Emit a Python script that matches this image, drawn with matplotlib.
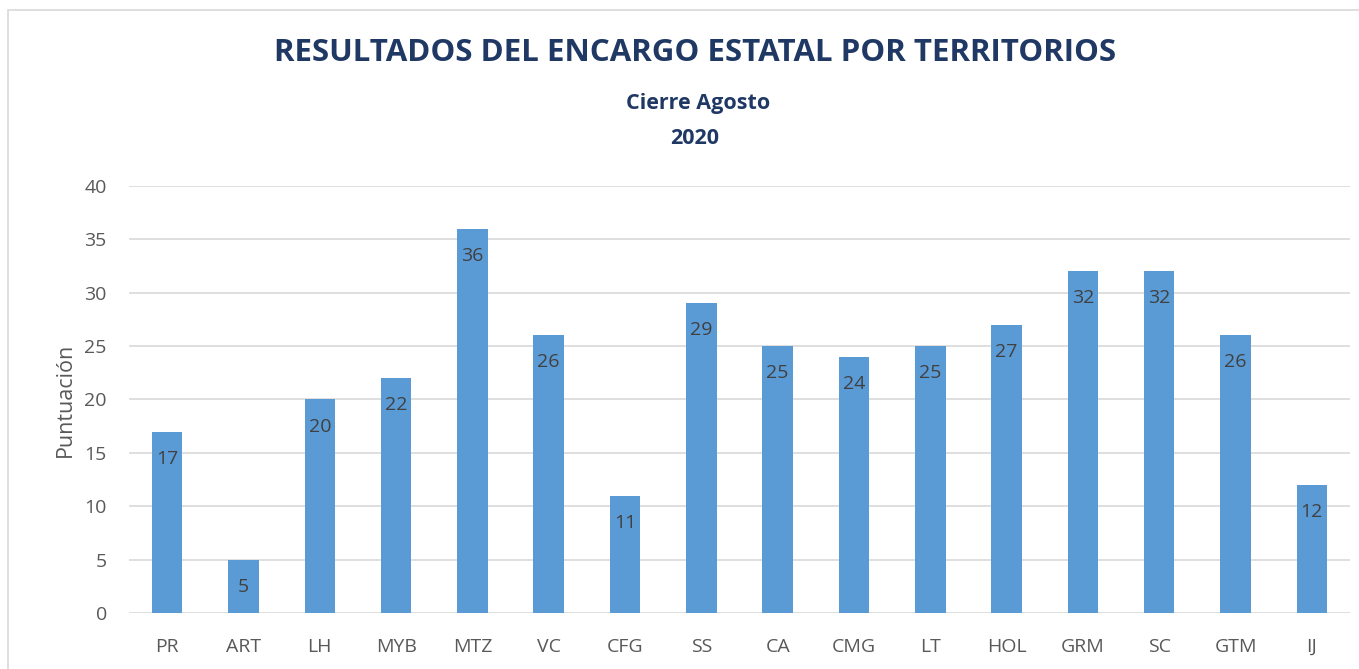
import matplotlib.pyplot as plt
from matplotlib.patches import Rectangle

territorios = ["PR", "ART", "LH", "MYB", "MTZ", "VC", "CFG", "SS", "CA", "CMG",
               "LT", "HOL", "GRM", "SC", "GTM", "IJ"]
puntuacion = [17, 5, 20, 22, 36, 26, 11, 29, 25, 24, 25, 27, 32, 32, 26, 12]
yticks = [0, 5, 10, 15, 20, 25, 30, 35, 40]

BAR = "#5b9bd5"
NAVY = "#1f3864"
GRAY = "#595959"

plt.rcParams["font.family"] = ["Open Sans", "DejaVu Sans"]

W, H = 1359, 669
fig = plt.figure(figsize=(W / 100, H / 100), dpi=100)
ax = fig.add_axes([129 / W, 1 - 613 / H, (1350 - 129) / W, (613 - 186) / H])

x = range(len(territorios))
bars = ax.bar(x, puntuacion, width=0.4, color=BAR, zorder=2)
for b, v in zip(bars, puntuacion):
    ax.annotate(str(v), (b.get_x() + b.get_width() / 2, v), xytext=(0, -27),
                textcoords="offset pixels", ha="center", va="center",
                fontsize=14, color="#404040", zorder=3)

ax.set_xlim(-0.5, len(territorios) - 0.5)
ax.set_ylim(0, 40)
ax.set_yticks(yticks)
ax.set_xticks(list(x))
ax.set_xticklabels(territorios)
ax.tick_params(axis="both", length=0, labelsize=14, labelcolor=GRAY)
ax.tick_params(axis="x", pad=18)
ax.tick_params(axis="y", pad=16)
ax.grid(axis="y", color="#d9d9d9", linewidth=1.2, zorder=0)
for s in ax.spines.values():
    s.set_visible(False)
ax.set_ylabel("Puntuación", fontsize=15.5, color=GRAY, labelpad=6)

fig.text(695 / W, 1 - 53 / H, "RESULTADOS DEL ENCARGO ESTATAL POR TERRITORIOS",
         ha="center", va="center", fontsize=22.5, fontweight="bold", color=NAVY)
fig.text(698 / W, 1 - 103 / H, "Cierre Agosto", ha="center", va="center",
         fontsize=15.5, fontweight="bold", color=NAVY)
fig.text(695 / W, 1 - 138 / H, "2020", ha="center", va="center",
         fontsize=15.5, fontweight="bold", color=NAVY)

fig.patches.append(Rectangle((8 / W, -0.01), 1.0, 1 - 10 / H + 0.01,
                             transform=fig.transFigure, fill=False,
                             edgecolor="#d9d9d9", linewidth=1.2))

fig.savefig("out.png", dpi=100)
